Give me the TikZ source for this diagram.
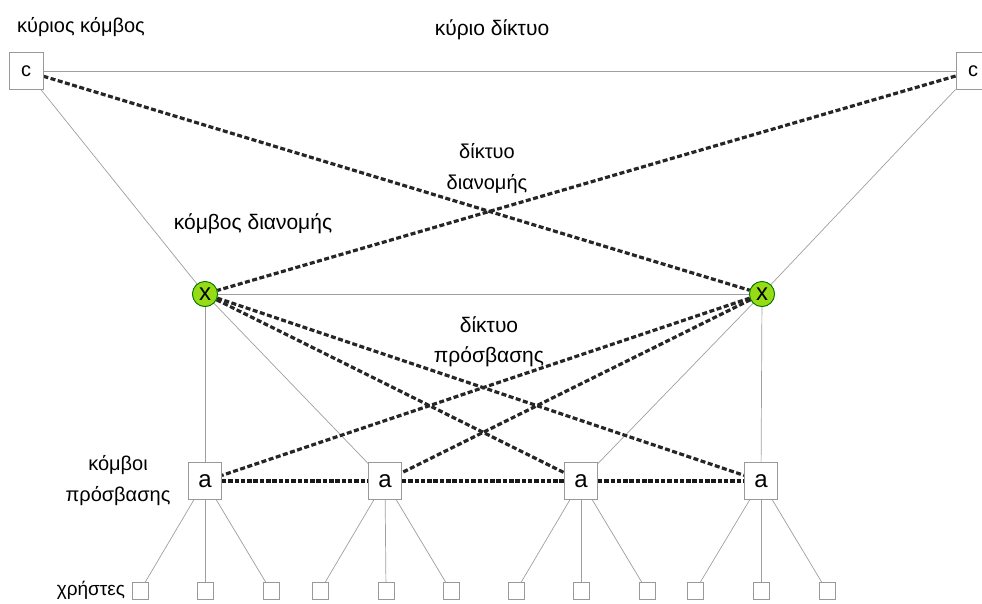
\documentclass[tikz,border=0pt]{standalone}
\usepackage{fontspec}
\setmainfont{Liberation Sans}
\begin{document}
\begin{tikzpicture}[x=1pt,y=-1pt,
  lbl/.style={font=\fontsize{20}{31}\selectfont, align=center, text=black, inner sep=0pt},
  cbox/.style={draw=gray!80, line width=0.8pt, fill=white, minimum width=34pt, minimum height=37pt, inner sep=0pt, font=\fontsize{20}{20}\selectfont},
  abox/.style={draw=gray!80, line width=0.8pt, fill=white, minimum width=33pt, minimum height=37pt, inner sep=0pt, font=\fontsize{24}{24}\selectfont},
  xnode/.style={circle, draw=green!45!black, line width=0.8pt, fill={rgb,255:red,150;green,220;blue,20}, minimum size=25pt, inner sep=0pt, font=\fontsize{24}{24}\selectfont},
  user/.style={draw=gray!80, line width=0.8pt, fill=white, minimum width=16pt, minimum height=17pt, inner sep=0pt},
  thin/.style={draw=gray!75, line width=0.7pt},
  dsh/.style={draw=black!85, line width=3.2pt, dash pattern=on 5pt off 2.5pt},
  dsha/.style={draw=black!90, line width=3.8pt, dash pattern=on 4.5pt off 1.8pt}
]
\useasboundingbox (0,0) rectangle (982,603);
\begin{scope}
\clip (0,0) rectangle (982,603);
% nodes
\node[cbox] (cL) at (26,71) {c};
\node[cbox] (cR) at (973,71) {c};
\node[xnode] (xL) at (205,294) {x};
\node[xnode] (xR) at (762,294) {x};
\node[abox] (a1) at (205,481) {a};
\node[abox] (a2) at (385,481) {a};
\node[abox] (a3) at (581,481) {a};
\node[abox] (a4) at (761,481) {a};
% users
\node[user] (u1) at (140,591) {};
\node[user] (u2) at (205,591) {};
\node[user] (u3) at (271,591) {};
\node[user] (u4) at (320,591) {};
\node[user] (u5) at (386,591) {};
\node[user] (u6) at (451,591) {};
\node[user] (u7) at (516,591) {};
\node[user] (u8) at (581,591) {};
\node[user] (u9) at (647,591) {};
\node[user] (u10) at (695,591) {};
\node[user] (u11) at (761,591) {};
\node[user] (u12) at (827,591) {};
% thin connections
\draw[thin] (cL) -- (cR);
\draw[thin] (cL) -- (xL);
\draw[thin] (cR) -- (xR);
\draw[thin] (xL) -- (xR);
\draw[thin] (xL) -- (a1);
\draw[thin] (xL) -- (a2);
\draw[thin] (xR) -- (a3);
\draw[thin] (xR) -- (a4);
\draw[thin] (a1) -- (u1); \draw[thin] (a1) -- (u2); \draw[thin] (a1) -- (u3);
\draw[thin] (a2) -- (u4); \draw[thin] (a2) -- (u5); \draw[thin] (a2) -- (u6);
\draw[thin] (a3) -- (u7); \draw[thin] (a3) -- (u8); \draw[thin] (a3) -- (u9);
\draw[thin] (a4) -- (u10); \draw[thin] (a4) -- (u11); \draw[thin] (a4) -- (u12);
% dashed connections
\draw[dsh] (cL) -- (xR);
\draw[dsh] (cR) -- (xL);
\draw[dsh] (xL) -- (a3);
\draw[dsh] (xL) -- (a4);
\draw[dsh] (xR) -- (a1);
\draw[dsh] (xR) -- (a2);
\draw[dsha] (a1) -- (a2);
\draw[dsha] (a2) -- (a3);
\draw[dsha] (a3) -- (a4);
% redraw nodes on top
\node[cbox] at (cL) {c};
\node[cbox] at (cR) {c};
\node[xnode] at (xL) {x};
\node[xnode] at (xR) {x};
\node[abox] at (a1) {a};
\node[abox] at (a2) {a};
\node[abox] at (a3) {a};
\node[abox] at (a4) {a};
\end{scope}
% labels
\node[lbl] (l1) at (81,27) {κύριος κόμβος};
\node[lbl, font=\fontsize{21}{31}\selectfont] (l2) at (492,30) {κύριο δίκτυο};
\node[lbl] (l3) at (487,169) {δίκτυο\\διανομής};
\node[lbl, font=\fontsize{21}{31}\selectfont] (l4) at (253,224) {κόμβος διανομής};
\node[lbl, font=\fontsize{21}{30}\selectfont] (l5) at (489,342) {δίκτυο\\πρόσβασης};
\node[lbl] (l6) at (118,481) {κόμβοι\\πρόσβασης};
\node[lbl, font=\fontsize{19}{30}\selectfont] (l7) at (91,590) {χρήστες};
\end{tikzpicture}
\end{document}
